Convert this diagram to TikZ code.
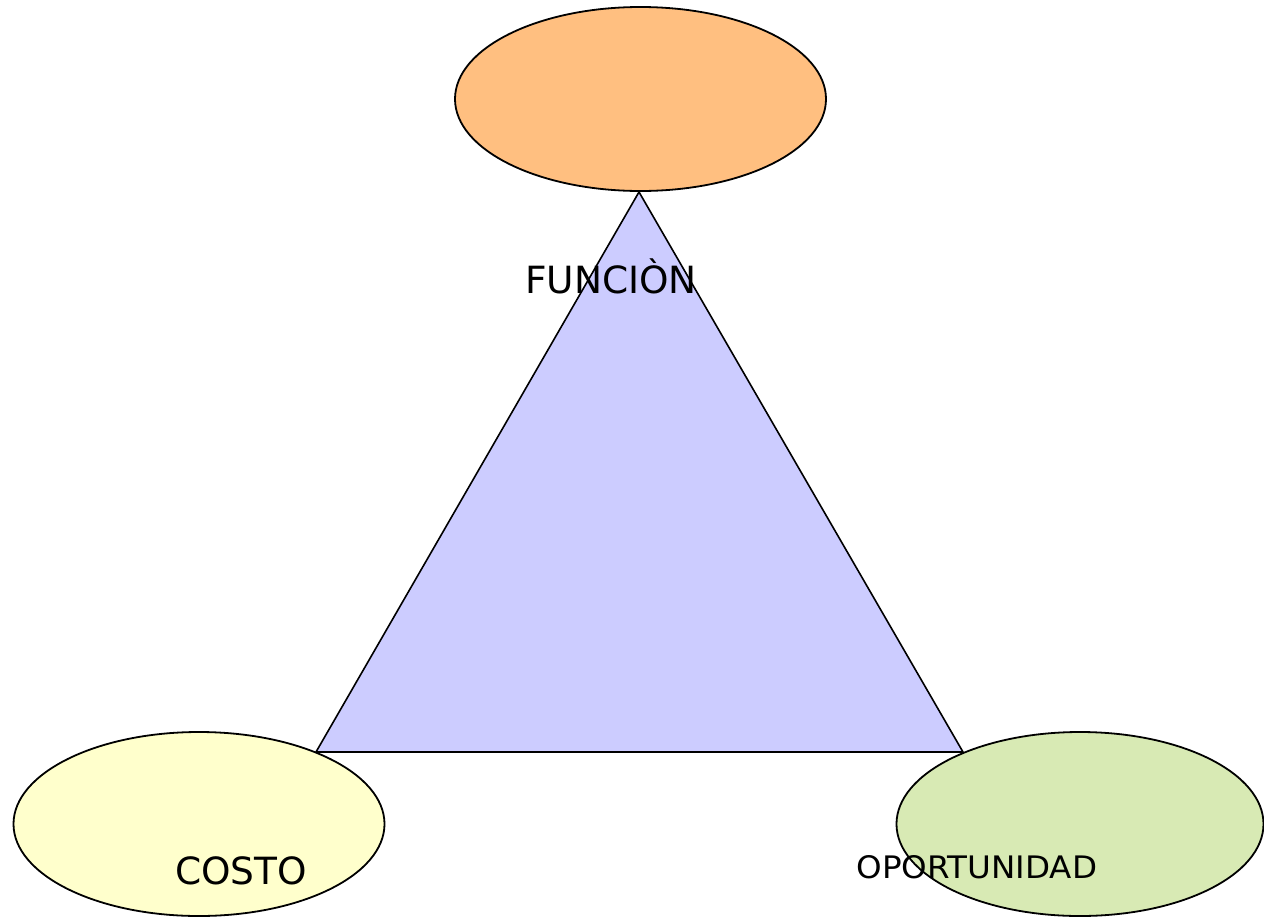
\documentclass[tikz,border=0pt]{standalone}
\usepackage{fontspec}
\setmainfont{DejaVu Sans}
\newfontfamily\widesans[FakeStretch=1.05]{DejaVu Sans}
\usetikzlibrary{shapes.geometric}
\definecolor{funcfill}{HTML}{FFBF80}
\definecolor{trifill}{HTML}{CCCCFF}
\definecolor{costfill}{HTML}{FFFFCC}
\definecolor{oppfill}{HTML}{D8EAB4}
\tikzset{
  blob/.style={ellipse, draw=black, line width=1.8pt, inner sep=0pt,
    minimum width=371pt, minimum height=184pt},
  lbl/.style={anchor=base, inner sep=0pt, text=black},
}
\begin{document}
\begin{tikzpicture}[x=1pt,y=-1pt]
\useasboundingbox (0,0) rectangle (1264,916);
% central triangle
\coordinate (apex) at (639,192);
\coordinate (bl) at (316,752);
\coordinate (br) at (963,752);
\filldraw[fill=trifill, draw=black, line width=1.6pt, line join=miter] (apex) -- (bl) -- (br) -- cycle;
% corner ellipses
\node[blob, fill=funcfill] (func) at (640.5,99) {};
\node[blob, fill=costfill] (cost) at (199,824) {};
\node[blob, fill=oppfill, minimum width=367pt] (opp) at (1080,824) {};
% labels
\node[lbl, font=\fontsize{37.5}{44}\selectfont] (tfunc) at (611,293) {FUNCIÒN};
\node[lbl, font=\fontsize{37.5}{44}\selectfont] (tcost) at (241,884) {COSTO};
\node[lbl, font=\widesans\fontsize{31}{36}\selectfont] (topp) at (977,878) {OPORTUNIDAD};
\end{tikzpicture}
\end{document}
